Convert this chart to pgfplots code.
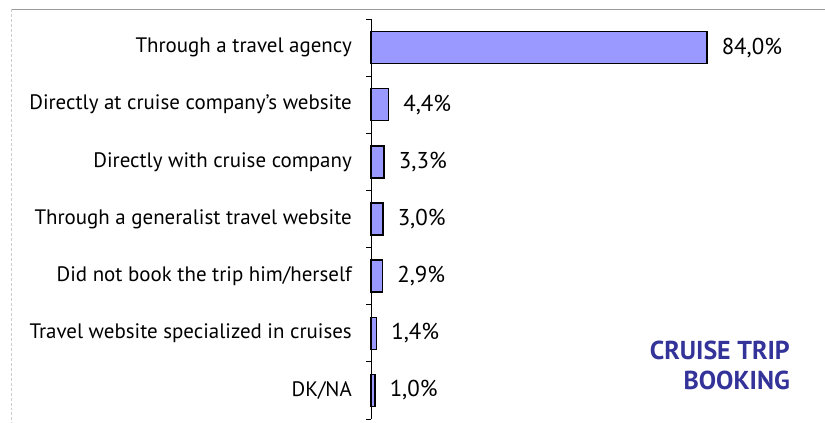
\documentclass[border=0pt]{standalone}
\usepackage{pgfplots}
\pgfplotsset{compat=1.18}
\usepackage{fontspec}
\setmainfont{PT Sans}
\definecolor{barfill}{HTML}{9999FF}
\definecolor{titleblue}{HTML}{333399}
\begin{document}
\begin{tikzpicture}
\useasboundingbox (0,0) rectangle (825bp,423bp);
\draw[gray!80, line width=0.8bp] (12bp,414bp) -- (825bp,414bp);
\draw[gray!40, line width=0.8bp, densely dashed] (11.5bp,414bp) -- (11.5bp,0);
\begin{axis}[
  at={(371bp,4bp)}, anchor=south west,
  scale only axis, width=420bp, height=400bp,
  xmin=0, xmax=105, ymin=-0.5, ymax=6.5,
  y dir=reverse,
  axis x line=none,
  axis y line*=left,
  y axis line style={line width=0.9bp, -},
  ytick={0,1,2,3,4,5,6},
  yticklabels={Through a travel agency, Directly at cruise company's website, Directly with cruise company, Through a generalist travel website, Did not book the trip him/herself, Travel website specialized in cruises, DK/NA},
  major tick length=0pt,
  extra y ticks={-0.5,0.5,1.5,2.5,3.5,4.5,5.5,6.5},
  extra y tick labels={},
  extra y tick style={major tick length=5bp, tick align=outside, tick style={line width=0.9bp, black}},
  yticklabel style={font=\fontsize{21}{24}\selectfont, anchor=east, inner sep=0pt, xshift=-19bp},
  xbar, bar width=32bp,
  /pgf/number format/assume math mode=true,
  nodes near coords={\pgfmathprintnumber[fixed,fixed zerofill,precision=1,use comma,assume math mode=true]{\pgfplotspointmeta}\%},
  every node near coord/.append style={font=\fontsize{23}{26}\selectfont, anchor=west, inner sep=0pt, xshift=14bp},
  clip=false,
]
\addplot[fill=barfill, draw=black, line width=1.5bp] coordinates {
  (84.0,0) (4.4,1) (3.3,2) (3.0,3) (2.9,4) (1.4,5) (1.0,6)
};
\end{axis}
\node[anchor=north east, align=right, font=\fontsize{26}{30}\selectfont\bfseries, text=titleblue, inner sep=0pt] at (790bp,82bp) {CRUISE TRIP\\BOOKING};
\end{tikzpicture}
\end{document}
